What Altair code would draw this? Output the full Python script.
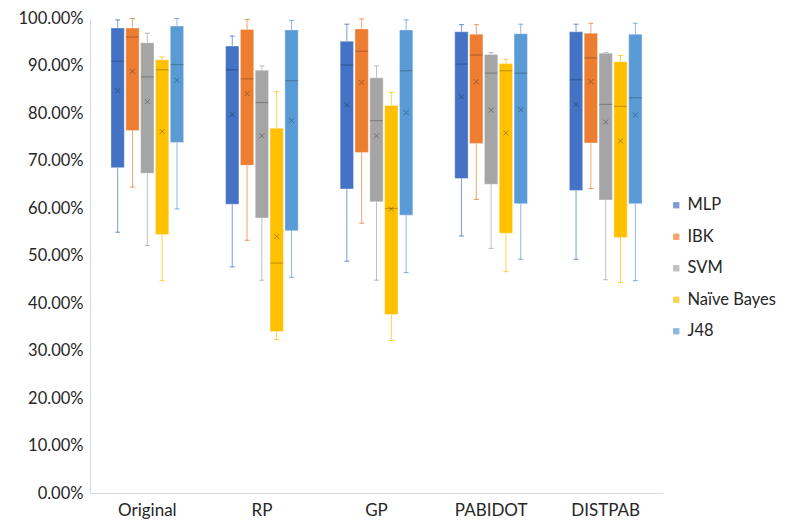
import altair as alt
import pandas as pd

groups = ["Original", "RP", "GP", "PABIDOT", "DISTPAB"]
series = ["MLP", "IBK", "SVM", "Naïve Bayes", "J48"]
colors = ["#4472C4", "#ED7D31", "#A5A5A5", "#FFC000", "#5B9BD5"]

# values in % ; rows follow groups, entries follow series
mins = [
    [54.9, 64.4, 52.1, 44.7, 59.8],
    [47.6, 53.2, 44.8, 32.3, 45.4],
    [48.8, 56.8, 44.8, 32.1, 46.4],
    [54.1, 61.8, 51.5, 46.6, 49.2],
    [49.2, 64.1, 44.9, 44.3, 44.7],
]
q1s = [
    [68.5, 76.3, 67.3, 54.4, 73.8],
    [60.8, 69.0, 57.9, 34.0, 55.2],
    [64.0, 71.7, 61.3, 37.6, 58.5],
    [66.2, 73.6, 65.0, 54.7, 60.9],
    [63.7, 73.7, 61.7, 53.8, 60.9],
]
medians = [
    [90.9, 96.0, 87.6, 89.1, 90.2],
    [89.1, 87.2, 82.2, 48.4, 86.8],
    [90.1, 93.0, 78.4, 59.9, 88.9],
    [90.3, 92.2, 88.4, 88.9, 88.4],
    [87.0, 91.6, 81.8, 81.4, 83.2],
]
q3s = [
    [97.9, 97.9, 94.8, 91.2, 98.3],
    [94.1, 97.6, 89.0, 76.8, 97.5],
    [95.1, 97.7, 87.4, 81.6, 97.5],
    [97.1, 96.6, 92.3, 90.4, 96.7],
    [97.1, 96.8, 92.6, 90.8, 96.6],
]
maxs = [
    [99.6, 99.9, 96.8, 91.8, 99.9],
    [96.2, 99.7, 89.9, 84.5, 99.5],
    [98.7, 99.8, 89.9, 84.3, 99.6],
    [98.6, 98.6, 92.7, 91.3, 98.7],
    [98.7, 98.9, 92.7, 92.1, 98.9],
]
means = [
    [84.7, 88.8, 82.4, 76.1, 86.9],
    [79.7, 84.1, 75.2, 54.0, 78.4],
    [81.7, 86.4, 75.2, 59.8, 80.1],
    [83.4, 86.6, 80.6, 75.8, 80.7],
    [81.8, 86.6, 78.1, 74.1, 79.6],
]

rows = []
for gi, g in enumerate(groups):
    for si, s in enumerate(series):
        rows.append({
            "group": g, "series": s,
            "min": mins[gi][si] / 100, "q1": q1s[gi][si] / 100,
            "median": medians[gi][si] / 100, "q3": q3s[gi][si] / 100,
            "max": maxs[gi][si] / 100, "mean": means[gi][si] / 100,
        })
df = pd.DataFrame(rows)

FONT = "Lato"
xenc = alt.X("group:N", sort=groups,
             scale=alt.Scale(paddingInner=0.353, paddingOuter=0.1765),
             axis=alt.Axis(title=None, labelAngle=0, ticks=False, domainColor="#D9D9D9",
                           labelFontSize=17, labelPadding=9, labelColor="#262626", labelFont=FONT))
xoff = alt.XOffset("series:N", sort=series,
                   scale=alt.Scale(paddingInner=0.1, paddingOuter=0.05))
yscale = alt.Scale(domain=[0, 1])
yaxis = alt.Axis(title=None, format=".2%", values=[i / 10 for i in range(11)], grid=False,
                 ticks=False, domainColor="#D9D9D9", labelFontSize=16.5, labelPadding=7,
                 labelColor="#262626", labelFont=FONT)
col = alt.Color("series:N", sort=series, scale=alt.Scale(domain=series, range=colors),
                legend=alt.Legend(title=None, orient="none", legendX=578, legendY=179,
                                  symbolType="square", symbolSize=40, symbolStrokeWidth=0,
                                  labelFontSize=16.5, labelFont=FONT, labelColor="#262626",
                                  rowPadding=14.5, labelOffset=3))
col_nl = alt.Color("series:N", sort=series, scale=alt.Scale(domain=series, range=colors), legend=None)

base = alt.Chart(df)

whisk = base.mark_rule(strokeWidth=1, opacity=0.7).encode(
    x=xenc, xOffset=xoff, y=alt.Y("min:Q", scale=yscale, axis=yaxis), y2="max:Q", color=col)
caps_lo = base.mark_tick(size=5, thickness=1, opacity=0.8).encode(
    x=xenc, xOffset=xoff, y=alt.Y("min:Q"), color=col_nl)
caps_hi = base.mark_tick(size=5, thickness=1, opacity=0.8).encode(
    x=xenc, xOffset=xoff, y=alt.Y("max:Q"), color=col_nl)
box = base.mark_bar(stroke="white", strokeWidth=0.6, strokeOpacity=0.6).encode(
    x=xenc, xOffset=xoff, y=alt.Y("q1:Q"), y2="q3:Q", color=col)
med = base.mark_tick(size=13, thickness=1.2, color="black", opacity=0.22).encode(
    x=xenc, xOffset=xoff, y=alt.Y("median:Q"))
mean = base.mark_point(shape="M-1,-1L1,1M1,-1L-1,1", size=25, filled=False, strokeWidth=1,
                       color="black", opacity=0.3).encode(
    x=xenc, xOffset=xoff, y=alt.Y("mean:Q"))

chart = alt.layer(whisk, caps_lo, caps_hi, box, med, mean).properties(
    width=573, height=475,
    autosize=alt.AutoSizeParams(type="none"),
    padding={"left": 82, "top": 10, "right": 120, "bottom": 30},
).configure(font=FONT, view=alt.ViewConfig(strokeWidth=0, stroke="transparent"))

chart.save("out.html", embed_options={"renderer": "svg", "actions": False})
